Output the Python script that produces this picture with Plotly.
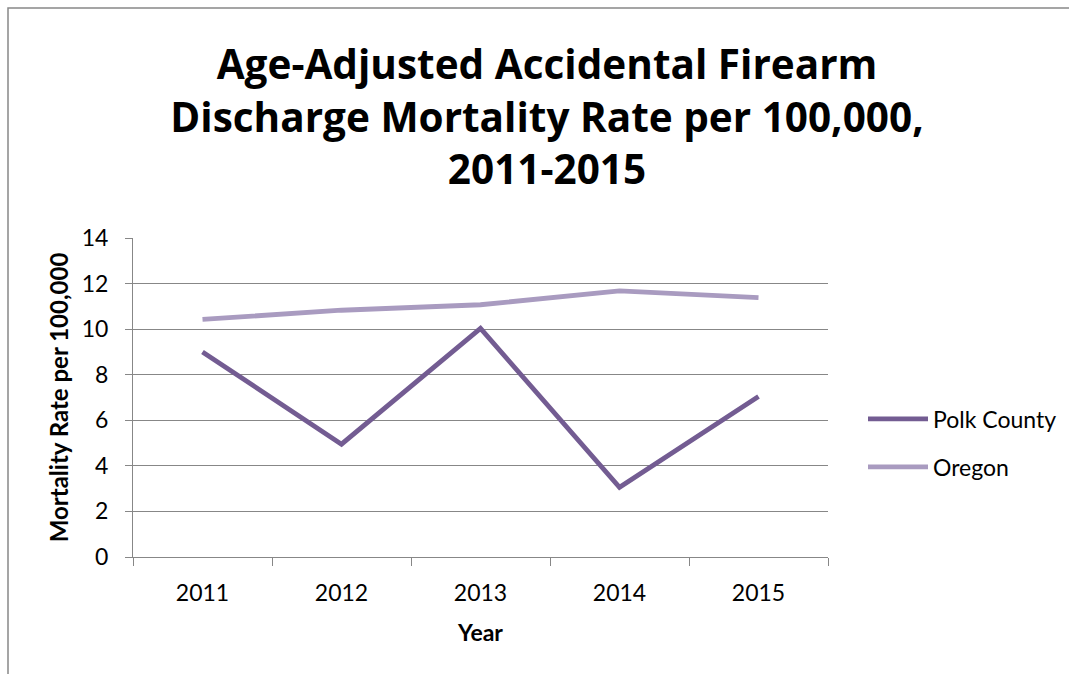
import plotly.graph_objects as go

years = ["2011", "2012", "2013", "2014", "2015"]
polk_county = [9.0, 4.95, 10.03, 3.06, 7.04]
oregon = [10.43, 10.83, 11.07, 11.68, 11.38]
y_ticks = [0, 2, 4, 6, 8, 10, 12, 14]

FONT = "Lato, sans-serif"
TITLE_FONT = "Open Sans, sans-serif"
GRID = "#878787"

fig = go.Figure()
fig.add_trace(go.Scatter(
    x=years, y=polk_county, name="Polk County", mode="lines",
    line=dict(color="#735C92", width=4.8), legendgroup="a",
))
fig.add_trace(go.Scatter(
    x=years, y=oregon, name="Oregon", mode="lines",
    line=dict(color="#A99BC0", width=4.8), legendgroup="b",
))

L, R, T, B = 133, 828, 238, 557
W, H = 1069, 674

fig.update_layout(
    width=W, height=H,
    margin=dict(l=L, r=W - R, t=T, b=H - B, pad=0),
    paper_bgcolor="white", plot_bgcolor="white",
    font=dict(family=FONT, color="black", size=22),
    title=dict(
        text="<b>Age-Adjusted Accidental Firearm<br>Discharge Mortality Rate per 100,000,<br>2011-2015</b>",
        font=dict(family=TITLE_FONT, size=40.5, color="black"),
        x=547 / W, xanchor="center", y=1 - 79 / H, yanchor="middle",
    ),
    xaxis=dict(
        type="category", categoryorder="array", categoryarray=years,
        range=[-0.5, 4.5],
        showline=True, linecolor=GRID, linewidth=1,
        ticks="outside", tickson="boundaries", ticklen=8, tickcolor=GRID,
        showgrid=False, tickfont=dict(size=23), zeroline=False,
        ticklabelstandoff=15,
        title=dict(text="<b>Year</b>", font=dict(size=23), standoff=20),
    ),
    yaxis=dict(
        range=[0, 14], tickvals=y_ticks, showline=True, linecolor=GRID, linewidth=1,
        ticks="outside", ticklen=7, tickcolor=GRID,
        showgrid=True, gridcolor=GRID, gridwidth=1, zeroline=False,
        tickfont=dict(size=23), ticklabelstandoff=12,
        title=dict(text="<b>Mortality Rate per 100,000</b>", font=dict(size=24), standoff=6),
    ),
    legend=dict(
        xref="container", yref="container",
        x=863 / W, xanchor="left", y=1 - 443 / H, yanchor="middle",
        font=dict(size=23), tracegroupgap=15, traceorder="grouped",
        itemwidth=60, bgcolor="rgba(0,0,0,0)",
    ),
    shapes=[dict(
        type="rect", xref="paper", yref="paper",
        x0=(8 - L) / (R - L), x1=(W + 20 - L) / (R - L),
        y0=(B - H - 20) / (B - T), y1=(B - 8) / (B - T),
        line=dict(color="#888888", width=1.5), fillcolor="rgba(0,0,0,0)", layer="below",
    )],
)

fig.write_html("out.html")
